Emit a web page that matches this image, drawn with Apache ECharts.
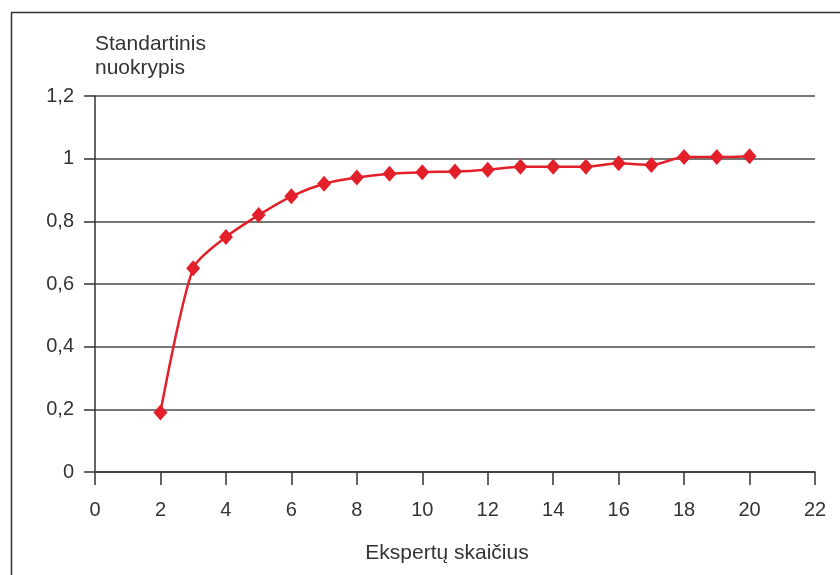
<!DOCTYPE html>
<html>
<head>
<meta charset="utf-8">
<script src="https://cdn.jsdelivr.net/npm/echarts@6/dist/echarts.min.js"></script>
<style>
  html, body { margin: 0; padding: 0; background: #fff; }
  #chart { width: 840px; height: 575px; }
</style>
</head>
<body>
<div id="chart"></div>
<script>
// Number of experts vs. standard deviation
const experts = [2, 3, 4, 5, 6, 7, 8, 9, 10, 11, 12, 13, 14, 15, 16, 17, 18, 19, 20];
const stdDev = [0.19, 0.65, 0.75, 0.82, 0.88, 0.92, 0.94, 0.952, 0.957, 0.959, 0.965, 0.974, 0.974, 0.974, 0.985, 0.98, 1.005, 1.005, 1.008];

const yAxisTitle = 'Standartinis\nnuokrypis';
const xAxisTitle = 'Ekspertų skaičius';

const ink = '#333333';
const lineRed = '#e3202a';
const font = 'Liberation Sans, Arial, sans-serif';

const chart = echarts.init(document.getElementById('chart'), null, { renderer: 'canvas' });

chart.setOption({
  backgroundColor: '#ffffff',
  animation: false,
  graphic: [
    {
      type: 'polyline',
      shape: { points: [[11.5, 600], [11.5, 12.5], [860, 12.5]] },
      style: { stroke: ink, lineWidth: 1.5, fill: null },
      silent: true
    }
  ],
  grid: { left: 95, right: 25, top: 96, bottom: 103, containLabel: false },
  xAxis: {
    type: 'value',
    min: 0,
    max: 22,
    interval: 2,
    name: xAxisTitle,
    nameLocation: 'middle',
    nameGap: 71,
    nameTextStyle: { fontFamily: font, fontSize: 21, color: ink, padding: [0, 16, 0, 0] },
    axisLine: { show: true, lineStyle: { color: ink, width: 1.5 } },
    axisTick: { show: true, inside: false, length: 13, lineStyle: { color: ink, width: 1.5 } },
    axisLabel: { fontFamily: font, fontSize: 20, color: ink, margin: 28 },
    splitLine: { show: false }
  },
  yAxis: {
    type: 'value',
    min: 0,
    max: 1.2,
    interval: 0.2,
    name: yAxisTitle,
    nameLocation: 'end',
    nameGap: 16,
    nameTextStyle: {
      fontFamily: font, fontSize: 21, color: ink,
      align: 'left', verticalAlign: 'bottom', lineHeight: 24
    },
    axisLine: { show: true, lineStyle: { color: ink, width: 1.5 } },
    axisTick: { show: true, inside: false, length: 11, lineStyle: { color: ink, width: 1.5 } },
    axisLabel: {
      fontFamily: font, fontSize: 20, color: ink, margin: 21,
      formatter: v => String(Math.round(v * 10) / 10).replace('.', ',')
    },
    splitLine: { show: true, lineStyle: { color: '#4a4a4a', width: 1.5 } }
  },
  series: [
    {
      type: 'line',
      data: experts.map((x, i) => [x, stdDev[i]]),
      smooth: 0.25,
      symbol: 'diamond',
      symbolSize: [14, 16],
      lineStyle: { color: lineRed, width: 2.5 },
      itemStyle: { color: lineRed },
      z: 3
    }
  ]
});
</script>
</body>
</html>
